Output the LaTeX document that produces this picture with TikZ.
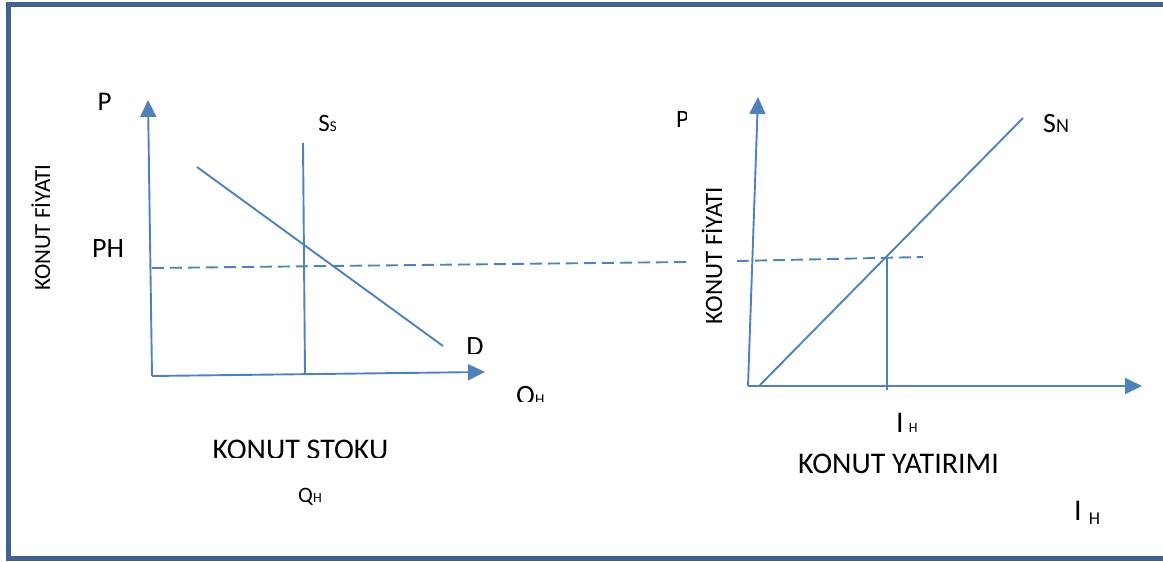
\documentclass[tikz,border=0pt]{standalone}
\usepackage{fontspec}
\setmainfont{Carlito}
\usetikzlibrary{arrows.meta}
\definecolor{curve}{RGB}{79,129,189}
\definecolor{framecol}{RGB}{65,98,142}
\newcommand{\fsz}[1]{\fontsize{#1}{#1}\selectfont}
\begin{document}
\begin{tikzpicture}[x=1pt,y=-1pt,
  line/.style={draw=curve,line width=1.9pt},
  axis/.style={line,-{Triangle[width=16pt,length=17pt]}},
  guide/.style={line,dash pattern=on 12pt off 6pt},
  lbl/.style={inner sep=0pt,text=black}]
\useasboundingbox (0,0) rectangle (1163,562);

% outer frame (open on the right)
\draw[framecol,line width=5pt] (1163,4.5) -- (8.3,4.5) -- (8.3,558) -- (1163,558);

% ---------- housing stock market ----------
\coordinate (O1) at (152,376);
\coordinate (Y1) at (148,100);
\coordinate (X1) at (485,372);
\coordinate (SsTop) at (303,143);
\coordinate (SsBot) at (305,374);
\coordinate (Dstart) at (197,167);
\coordinate (Dend) at (443,346);
\coordinate (PHa) at (152,268);
\coordinate (PHb) at (687,262);

\draw[axis] (O1) -- (Y1);
\draw[axis] (O1) -- (X1);
\draw[line] (SsTop) -- (SsBot);
\draw[line] (Dstart) -- (Dend);
\draw[guide] (PHa) -- (PHb);

\node[lbl,anchor=base] (pL) at (104.5,110) {\fsz{27}P};
\node[lbl,anchor=base] (ph) at (108,257) {\fsz{28}PH};
\node[lbl,anchor=base] (ss) at (327.5,131.5) {\fsz{25}S\fsz{15}S};
\begin{scope}
  \clip (455,330) rectangle (500,353.5);
  \node[lbl,anchor=base] (dL) at (475,355.5) {\fsz{28}D};
\end{scope}
\begin{scope}
  \clip (505,375) rectangle (570,401);
  \node[lbl,anchor=base west] (qAx) at (516,404) {\fsz{28}Q\fsz{15}H};
\end{scope}
\node[lbl,anchor=base,rotate=90] (yL) at (50,227.5) {\fsz{23}KONUT FİYATI};
\begin{scope}
  \clip (190,430) rectangle (410,457);
  \node[lbl,anchor=base] (stok) at (300.5,459) {\fsz{30}KONUT STOKU};
\end{scope}
\node[lbl,anchor=base] (qL) at (310,502) {\fsz{22}Q\fsz{14}H};

% ---------- housing investment ----------
\coordinate (O2) at (748,386);
\coordinate (Y2) at (758,97);
\coordinate (X2) at (1142,386);
\coordinate (SnStart) at (760,385);
\coordinate (SnEnd) at (1023,118);
\coordinate (Eq) at (887,258);
\coordinate (IHfoot) at (887,390);
\coordinate (PHc) at (737,261);
\coordinate (PHd) at (923,257);

\draw[axis] (O2) -- (Y2);
\draw[axis] (O2) -- (X2);
\draw[line] (SnStart) -- (SnEnd);
\draw[line] (Eq) -- (IHfoot);
\draw[guide] (PHc) -- (PHd);

\begin{scope}
  \clip (670,100) rectangle (686,135);
  \node[lbl,anchor=base west] (pR) at (676,127.5) {\fsz{25}P};
\end{scope}
\node[lbl,anchor=base,rotate=90] (yR) at (722,255.5) {\fsz{25}KONUT FİYATI};
\node[lbl,anchor=base west] (sn) at (1043,132) {\fsz{28}S\fsz{20}N};
\node[lbl,anchor=base west] (ihA) at (896,432) {\fsz{30}I\hspace{5pt}\fsz{14}H};
\node[lbl,anchor=base] (yat) at (898.5,473) {\fsz{30}KONUT YATIRIMI};
\node[lbl,anchor=base west] (ihB) at (1074,520) {\fsz{30}I\hspace{7pt}\raisebox{-4pt}{\fsz{18}H}};
\end{tikzpicture}
\end{document}
